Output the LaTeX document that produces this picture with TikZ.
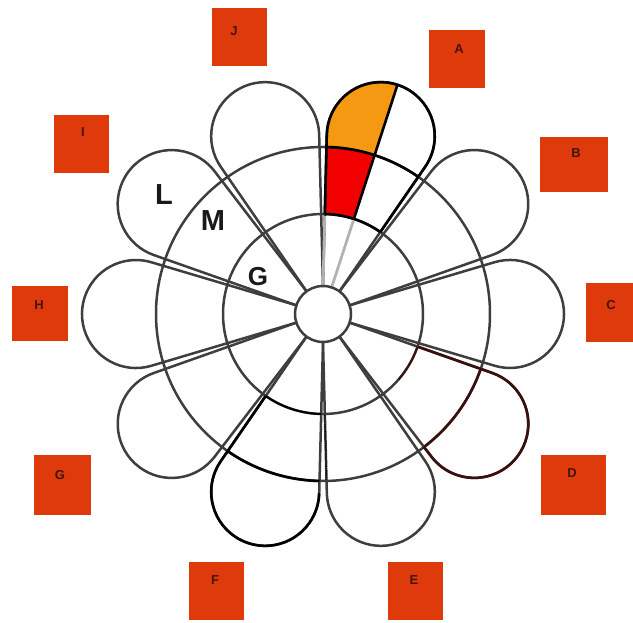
\documentclass[tikz,border=0pt]{standalone}
\usepackage{fontspec}
\setmainfont{Liberation Sans}
\definecolor{boxred}{RGB}{222,58,12}
\definecolor{petalorange}{RGB}{245,152,18}
\definecolor{petalred}{RGB}{242,0,0}
\definecolor{linegray}{RGB}{62,62,62}
\definecolor{darkmaroon}{RGB}{60,15,15}
\definecolor{tagink}{RGB}{70,20,15}
\tikzset{
  petalline/.style={draw=linegray, line width=2.5pt, line join=round},
  ringline/.style={draw=linegray, line width=2.5pt},
  hilite/.style={draw=black, line width=2.6pt, line join=round},
  faintline/.style={draw=black!30, line width=2.8pt},
  tagbox/.style={fill=boxred, inner sep=0pt, draw=none},
  tagtext/.style={font=\bfseries\fontsize{13}{13}\selectfont, text=tagink, inner sep=0pt},
  zonetext/.style={font=\bfseries\fontsize{29}{29}\selectfont, text=black!90, inner sep=0pt},
}
\begin{document}
\begin{tikzpicture}[x=1pt,y=1pt]
\useasboundingbox (0,0) rectangle (633,623);
\coordinate (O) at (323,309);

% coloured cells of the 72 degree petal
\begin{scope}[shift={(O)}, rotate=72]
  \fill[petalorange] (167,0) -- (241,0) arc[start angle=0, end angle=106.7, radius=54]
     -- (16.80:167) arc[start angle=16.80, end angle=0, radius=167] -- cycle;
  \fill[petalred] (100,0) -- (167,0) arc[start angle=0, end angle=16.80, radius=167]
     -- (16.96:100) arc[start angle=16.96, end angle=0, radius=100] -- cycle;
\end{scope}

% concentric rings
\draw[ringline] (O) circle[radius=100];
\draw[ringline] (O) circle[radius=167];

% petals
\foreach \a in {0,36,...,324}{
  \begin{scope}[shift={(O)}, rotate=\a]
    \draw[petalline] (18:28) -- (171.5,51.75) arc[start angle=106.7, end angle=-106.7, radius=54] -- (-18:28);
  \end{scope}
}

% petal at 72 degrees (highlighted, split along its axis)
\begin{scope}[shift={(O)}, rotate=72]
  \draw[faintline] (18:28.5) -- (16.96:98);
  \draw[faintline] (28,0) -- (98,0);
  \draw[hilite] (16.96:100) -- (171.5,51.75) arc[start angle=106.7, end angle=-106.7, radius=54] -- (-16.96:100);
  \draw[hilite] (100,0) -- (241,0);
  \draw[hilite] (16.80:167) arc[start angle=16.80, end angle=-16.80, radius=167];
  \draw[hilite] (16.96:100) arc[start angle=16.96, end angle=-16.96, radius=100];
\end{scope}

% petal at -36 degrees (D side)
\begin{scope}[shift={(O)}, rotate=-36]
  \draw[hilite, draw=darkmaroon] (16.96:100) -- (171.5,51.75) arc[start angle=106.7, end angle=-106.7, radius=54] -- (-16.80:167);
  \draw[hilite, draw=darkmaroon] (16.80:167) arc[start angle=16.80, end angle=-16.80, radius=167];
  \draw[hilite, draw=darkmaroon, line width=1.8pt] (16.96:100) arc[start angle=16.96, end angle=-5, radius=100];
\end{scope}

% petal at -108 degrees (F side)
\begin{scope}[shift={(O)}, rotate=-108]
  \draw[hilite] (-16.96:100) -- (171.5,-51.75) arc[start angle=-106.7, end angle=106.7, radius=54];
  \draw[hilite] (-16.80:167) arc[start angle=-16.80, end angle=16.80, radius=167];
  \draw[hilite, line width=2pt] (-16.96:100) arc[start angle=-16.96, end angle=16.96, radius=100];
\end{scope}

% dotted edge of the -72 degree petal
\begin{scope}[shift={(O)}, rotate=-72]
  \draw[black, densely dotted, line width=1.3pt] (-16.96:101) -- (-16.80:166);
\end{scope}

% hub
\node[circle, fill=white, draw=linegray, line width=2.5pt, minimum size=56pt, inner sep=0pt] (hub) at (O) {};

% zone labels
\node[zonetext] (zL) at (164,428) {L};
\node[zonetext] (zM) at (213,402) {M};
\node[zonetext, font=\bfseries\fontsize{26}{26}\selectfont] (zG) at (258,346) {G};

% lettered boxes
\node[tagbox, minimum width=55pt, minimum height=58pt] (bJ) at (239,586) {};
\node[tagtext] (tJ) at (234,592) {J};
\node[tagbox, minimum width=56pt, minimum height=58pt] (bA) at (457,564) {};
\node[tagtext] (tA) at (459,574) {A};
\node[tagbox, minimum width=68pt, minimum height=55pt] (bB) at (574,458.5) {};
\node[tagtext] (tB) at (576,470) {B};
\node[tagbox, minimum width=47pt, minimum height=59pt] (bC) at (609.5,310.5) {};
\node[tagtext] (tC) at (611,318) {C};
\node[tagbox, minimum width=65pt, minimum height=60pt] (bD) at (573,138) {};
\node[tagtext] (tD) at (572,150) {D};
\node[tagbox, minimum width=55pt, minimum height=58pt] (bE) at (415,32) {};
\node[tagtext] (tE) at (414,43) {E};
\node[tagbox, minimum width=55pt, minimum height=58pt] (bF) at (216,32) {};
\node[tagtext] (tF) at (215,43) {F};
\node[tagbox, minimum width=57pt, minimum height=60pt] (bG) at (62,138) {};
\node[tagtext] (tG) at (60,148) {G};
\node[tagbox, minimum width=56pt, minimum height=55pt] (bH) at (40,309) {};
\node[tagtext] (tH) at (39,318) {H};
\node[tagbox, minimum width=55pt, minimum height=58pt] (bI) at (81,479) {};
\node[tagtext] (tI) at (83,491) {I};
\end{tikzpicture}
\end{document}
